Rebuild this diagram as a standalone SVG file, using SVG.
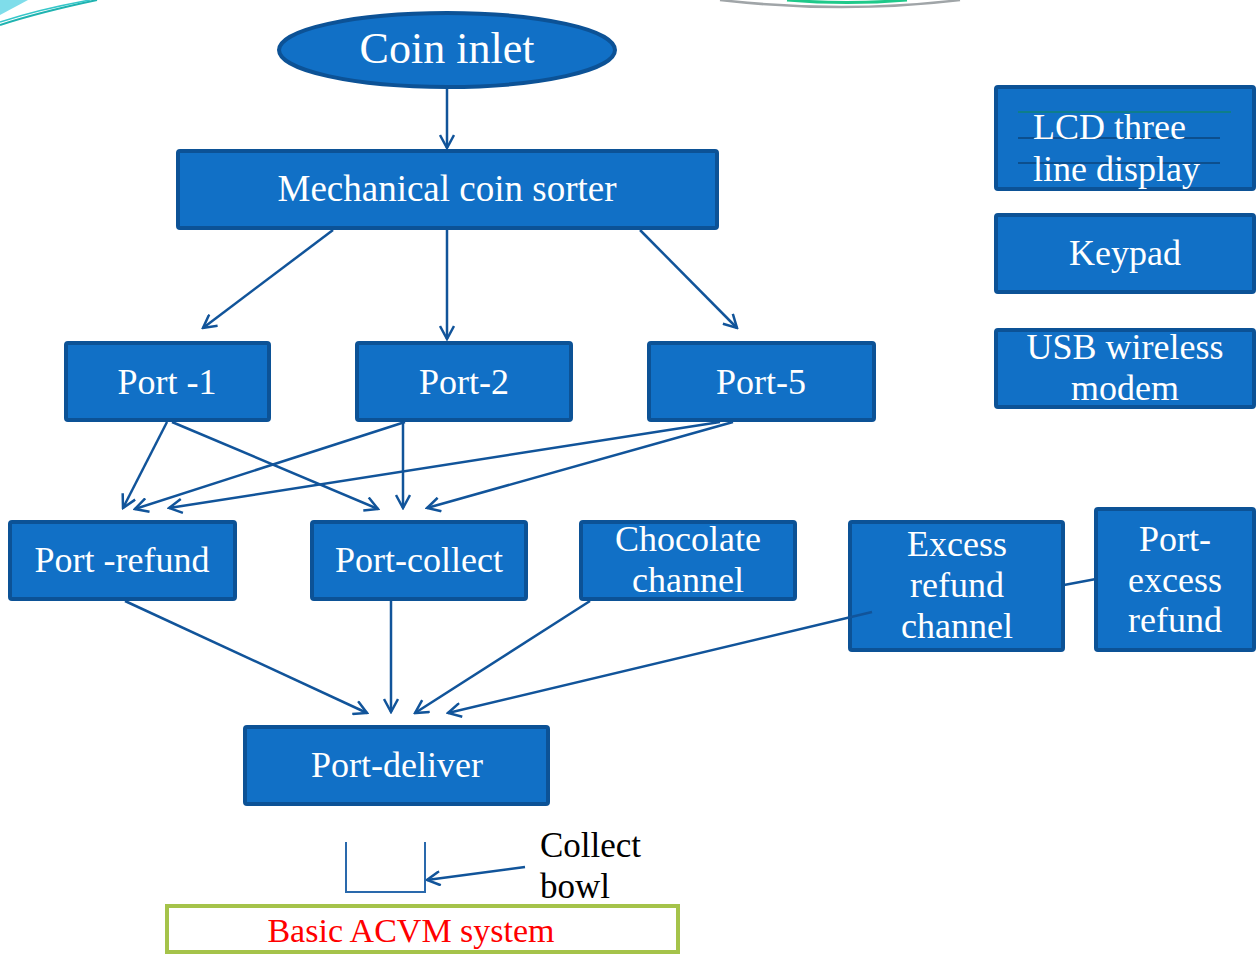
<svg xmlns="http://www.w3.org/2000/svg" width="1257" height="954" viewBox="0 0 1257 954">
<style>
.box{fill:#1170C6;stroke:#0C5296;stroke-width:4}
.t{font-family:"Liberation Serif","DejaVu Serif",serif;fill:#fff;font-size:36px;text-anchor:middle}
.c{fill:none;stroke:#11549A;stroke-width:2.5}
</style>
<defs>
<marker id="ah" viewBox="0 0 16 16" refX="14" refY="8" markerWidth="16" markerHeight="16" markerUnits="userSpaceOnUse" orient="auto">
<path d="M1,1 L14,8 L1,15" fill="none" stroke="#11549A" stroke-width="2.5"/>
</marker>
</defs>
<rect width="1257" height="954" fill="#fff"/>
<g id="decor">
<polygon points="0,0 28,0 0,15" fill="#7FDDEA"/>
<path d="M0,25 Q40,12 97,0" fill="none" stroke="#1FB3B0" stroke-width="2"/>
<path d="M0,22 Q40,9 90,0" fill="none" stroke="#35C6C9" stroke-width="1.5"/>
<path d="M720,0 Q843,14 960,0" fill="none" stroke="#A0A5A8" stroke-width="2.5"/>
<path d="M787,0 Q847,5 907,0" fill="none" stroke="#1FC98A" stroke-width="3"/>
</g>
<g id="connectors">
<line class="c" x1="447" y1="88" x2="447" y2="148" marker-end="url(#ah)"/>
<line class="c" x1="333" y1="230" x2="203" y2="328" marker-end="url(#ah)"/>
<line class="c" x1="447" y1="230" x2="447" y2="339" marker-end="url(#ah)"/>
<line class="c" x1="640" y1="230" x2="737" y2="328" marker-end="url(#ah)"/>
<line class="c" x1="167" y1="422" x2="123" y2="508" marker-end="url(#ah)"/>
<line class="c" x1="172" y1="422" x2="378" y2="509" marker-end="url(#ah)"/>
<line class="c" x1="405" y1="422" x2="135" y2="509" marker-end="url(#ah)"/>
<line class="c" x1="403" y1="422" x2="403" y2="508" marker-end="url(#ah)"/>
<line class="c" x1="720" y1="422" x2="169" y2="508" marker-end="url(#ah)"/>
<line class="c" x1="733" y1="422" x2="427" y2="508" marker-end="url(#ah)"/>
<line class="c" x1="125" y1="601" x2="367" y2="713" marker-end="url(#ah)"/>
<line class="c" x1="391" y1="601" x2="391" y2="712" marker-end="url(#ah)"/>
<line class="c" x1="590" y1="601" x2="415" y2="713" marker-end="url(#ah)"/>
<line class="c" x1="1064" y1="585" x2="1096" y2="579"/>
<line class="c" x1="525" y1="867" x2="427" y2="880" marker-end="url(#ah)"/>
</g>
<g id="coin-inlet">
<ellipse class="box" cx="447" cy="50" rx="168" ry="37"/>
<text class="t" x="447" y="63" style="font-size:44px">Coin inlet</text>
</g>
<g id="sorter">
<rect class="box" x="178" y="151" width="539" height="77" rx="2"/>
<text class="t" x="447" y="201" style="font-size:37px">Mechanical coin sorter</text>
</g>
<g id="port1">
<rect class="box" x="66" y="343" width="203" height="77" rx="2"/>
<text class="t" x="167" y="394">Port -1</text>
</g>
<g id="port2">
<rect class="box" x="357" y="343" width="214" height="77" rx="2"/>
<text class="t" x="464" y="394">Port-2</text>
</g>
<g id="port5">
<rect class="box" x="649" y="343" width="225" height="77" rx="2"/>
<text class="t" x="761" y="394">Port-5</text>
</g>
<g id="port-refund">
<rect class="box" x="10" y="522" width="225" height="77" rx="2"/>
<text class="t" x="122" y="572">Port -refund</text>
</g>
<g id="port-collect">
<rect class="box" x="312" y="522" width="214" height="77" rx="2"/>
<text class="t" x="419" y="572">Port-collect</text>
</g>
<g id="chocolate">
<rect class="box" x="581" y="522" width="214" height="77" rx="2"/>
<text class="t" x="688" y="551">Chocolate</text>
<text class="t" x="688" y="592">channel</text>
</g>
<g id="excess-refund">
<rect class="box" x="850" y="522" width="213" height="128" rx="2"/>
<text class="t" x="957" y="556">Excess</text>
<text class="t" x="957" y="597">refund</text>
<text class="t" x="957" y="638">channel</text>
</g>
<line class="c" x1="872" y1="612" x2="448" y2="713" marker-end="url(#ah)"/>
<g id="port-excess">
<rect class="box" x="1096" y="509" width="158" height="141" rx="2"/>
<text class="t" x="1175" y="551">Port-</text>
<text class="t" x="1175" y="592">excess</text>
<text class="t" x="1175" y="632">refund</text>
</g>
<g id="port-deliver">
<rect class="box" x="245" y="727" width="303" height="77" rx="2"/>
<text class="t" x="397" y="777">Port-deliver</text>
</g>
<g id="lcd">
<rect class="box" x="996" y="87" width="258" height="102" rx="2"/>
<line x1="1018" y1="112" x2="1231" y2="112" stroke="#0E7E8A" stroke-width="2"/>
<line x1="1018" y1="138" x2="1220" y2="138" stroke="#0C4F8E" stroke-width="2"/>
<line x1="1018" y1="163" x2="1220" y2="163" stroke="#0C4F8E" stroke-width="2"/>
<text class="t" x="1033" y="139" style="text-anchor:start">LCD three</text>
<text class="t" x="1033" y="181" style="text-anchor:start">line display</text>
</g>
<g id="keypad">
<rect class="box" x="996" y="215" width="258" height="77" rx="2"/>
<text class="t" x="1125" y="265">Keypad</text>
</g>
<g id="usb">
<rect class="box" x="996" y="330" width="258" height="77" rx="2"/>
<text class="t" x="1125" y="359">USB wireless</text>
<text class="t" x="1125" y="400">modem</text>
</g>
<g id="collect-bowl">
<path d="M346,842 L346,892 L425,892 L425,842" fill="none" stroke="#2A69AC" stroke-width="2"/>
<text x="540" y="857" font-family="Liberation Serif,serif" font-size="35" fill="#000">Collect</text>
<text x="540" y="898" font-family="Liberation Serif,serif" font-size="35" fill="#000">bowl</text>
</g>
<g id="acvm">
<rect x="167" y="906" width="511" height="46" fill="#fff" stroke="#A5C34A" stroke-width="4"/>
<text x="411" y="942" font-family="Liberation Serif,serif" font-size="34" fill="#FF0000" text-anchor="middle">Basic ACVM system</text>
</g>
</svg>
